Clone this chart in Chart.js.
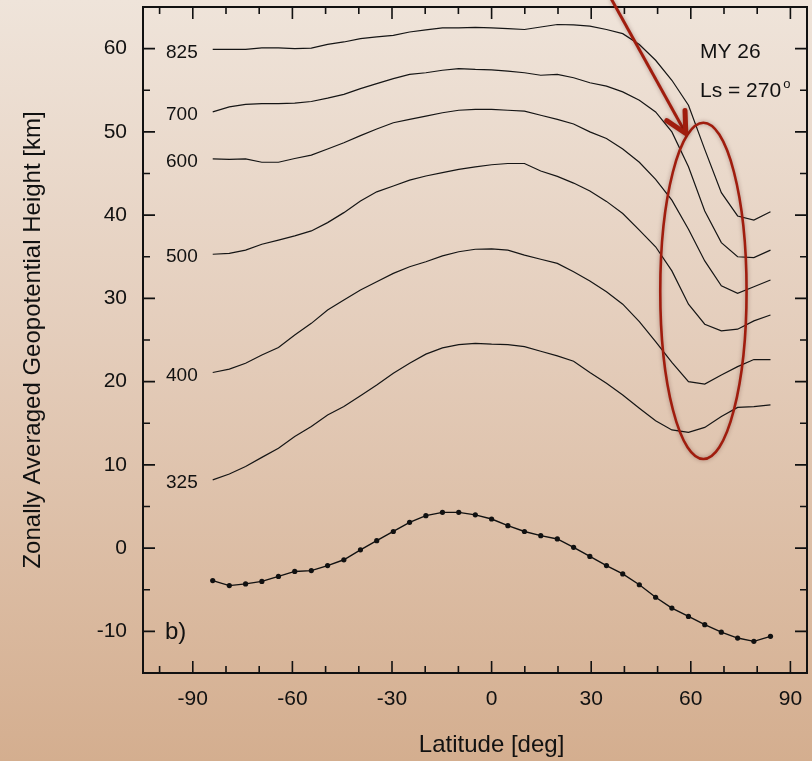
<!DOCTYPE html>
<html>
<head>
<meta charset="utf-8">
<script src="https://cdn.jsdelivr.net/npm/chart.js@4.4.1/dist/chart.umd.min.js"></script>
<style>
  html, body { margin: 0; padding: 0; }
  body { width: 812px; height: 761px; overflow: hidden;
    background: linear-gradient(to bottom, #efe4da 0%, #e4cdbb 45%, #d4ae8f 100%); }
</style>
</head>
<body>
<canvas id="myChart" width="812" height="761"></canvas>
<script>
// latitude grid of the model output (deg)
const lats = [-84.0, -79.0, -74.1, -69.2, -64.2, -59.3, -54.3, -49.4, -44.5, -39.5, -34.6, -29.6,
  -24.7, -19.8, -14.8, -9.9, -4.9, 0, 4.9, 9.9, 14.8, 19.8, 24.7, 29.6, 34.6, 39.5, 44.5, 49.4,
  54.3, 59.3, 64.2, 69.2, 74.1, 79.0, 84.0];

// geopotential height (km) of each pressure level
const h825 = [59.9, 59.9, 59.9, 60.1, 60.1, 60.0, 60.05, 60.5, 60.8, 61.2, 61.4, 61.6, 62.0, 62.25, 62.5,
  62.5, 62.55, 62.5, 62.4, 62.3, 62.6, 62.9, 62.85, 62.7, 62.3, 61.8, 60.5, 58.6, 56.2, 53.2, 47.9, 42.7,
  39.9, 39.4, 40.4];
const h700 = [52.4, 53.0, 53.3, 53.4, 53.4, 53.45, 53.65, 54.05, 54.5, 55.2, 55.8, 56.4, 56.9, 57.1, 57.4,
  57.6, 57.5, 57.45, 57.3, 57.1, 56.8, 56.9, 56.5, 55.9, 55.5, 54.8, 53.8, 52.4, 50.0, 45.8, 40.5, 36.7,
  35.0, 34.9, 35.8];
const h600 = [46.75, 46.7, 46.75, 46.35, 46.35, 46.8, 47.2, 47.95, 48.7, 49.55, 50.35, 51.1, 51.5, 51.9, 52.3,
  52.6, 52.7, 52.7, 52.6, 52.5, 52.0, 51.5, 50.95, 50.0, 49.2, 47.95, 46.35, 44.3, 41.8, 38.3, 34.5, 31.5,
  30.6, 31.4, 32.2];
const h500 = [35.3, 35.4, 35.8, 36.5, 37.0, 37.5, 38.1, 39.1, 40.3, 41.7, 42.8, 43.5, 44.2, 44.7, 45.1,
  45.5, 45.8, 46.05, 46.2, 46.2, 45.3, 44.65, 43.85, 42.9, 41.65, 40.2, 38.2, 36.2, 33.3, 29.3, 26.9, 26.1,
  26.3, 27.3, 28.0];
const h400 = [21.1, 21.5, 22.2, 23.2, 24.1, 25.6, 27.0, 28.6, 29.8, 31.0, 32.0, 33.0, 33.8, 34.4, 35.1,
  35.6, 35.9, 35.95, 35.8, 35.2, 34.7, 34.2, 33.2, 32.1, 30.8, 29.3, 27.2, 24.8, 22.3, 20.0, 19.7, 20.8,
  21.8, 22.65, 22.65];
const h325 = [8.2, 8.9, 9.8, 10.9, 12.0, 13.4, 14.6, 16.0, 17.0, 18.3, 19.6, 21.0, 22.2, 23.3, 24.05,
  24.45, 24.6, 24.5, 24.45, 24.2, 23.65, 23.1, 22.45, 21.1, 19.8, 18.4, 16.8, 15.3, 14.2, 13.9, 14.5, 15.8,
  16.9, 17.0, 17.2];
// surface curve (dots)
const surface = [-3.9, -4.5, -4.3, -4.0, -3.4, -2.8, -2.7, -2.1, -1.4, -0.2, 0.9, 2.0, 3.1, 3.9, 4.3,
  4.3, 4.0, 3.5, 2.7, 2.0, 1.5, 1.1, 0.1, -1.0, -2.1, -3.1, -4.4, -5.9, -7.2, -8.2, -9.2, -10.1,
  -10.8, -11.2, -10.6];

const levelNames = ['825', '700', '600', '500', '400', '325'];
const levelSeries = [h825, h700, h600, h500, h400, h325];

const xTicks = [-90, -60, -30, 0, 30, 60, 90];
const yTicks = [-10, 0, 10, 20, 30, 40, 50, 60];

const FONT = "'Liberation Sans', Arial, Helvetica, sans-serif";
const RED = '#a01d0e';

function pts(vals) {
  return vals.map((v, i) => ({ x: lats[i], y: v }));
}

const datasets = levelSeries.map((s, k) => ({
  label: levelNames[k],
  data: pts(s),
  borderColor: '#151515',
  borderWidth: 1.2,
  pointRadius: 0,
  tension: 0
}));
datasets.push({
  label: 'surface',
  data: pts(surface),
  borderColor: '#111',
  borderWidth: 1.4,
  pointRadius: 2.6,
  pointBackgroundColor: '#111',
  pointBorderWidth: 0,
  tension: 0
});

// frame, inward ticks, labels and the red marks
const extras = {
  id: 'extras',
  afterDraw(chart) {
    const { ctx, chartArea: a, scales: { x, y } } = chart;
    ctx.save();
    ctx.strokeStyle = '#111';
    ctx.lineWidth = 2;
    ctx.strokeRect(a.left, a.top, a.right - a.left, a.bottom - a.top);

    ctx.lineWidth = 1.6;
    ctx.beginPath();
    for (let v = -100; v <= 90; v += 10) {
      const px = x.getPixelForValue(v);
      const len = v % 30 === 0 ? 12 : 7;
      ctx.moveTo(px, a.bottom); ctx.lineTo(px, a.bottom - len);
      ctx.moveTo(px, a.top); ctx.lineTo(px, a.top + len);
    }
    for (let v = -10; v <= 60; v += 5) {
      const py = y.getPixelForValue(v);
      const len = v % 10 === 0 ? 12 : 7;
      ctx.moveTo(a.left, py); ctx.lineTo(a.left + len, py);
      ctx.moveTo(a.right, py); ctx.lineTo(a.right - len, py);
    }
    ctx.stroke();

    // level labels at the start of each line
    ctx.fillStyle = '#111';
    ctx.font = '19px ' + FONT;
    ctx.textAlign = 'right';
    ctx.textBaseline = 'middle';
    levelSeries.forEach((s, k) => {
      ctx.fillText(levelNames[k], x.getPixelForValue(lats[0]) - 15, y.getPixelForValue(s[0]) + 3);
    });

    // x axis title, centred on latitude 0
    ctx.textAlign = 'center';
    ctx.font = '24px ' + FONT;
    ctx.fillText('Latitude [deg]', x.getPixelForValue(0), 745);

    ctx.textAlign = 'left';
    ctx.font = '21px ' + FONT;
    ctx.fillText('MY 26', 700, 52);
    ctx.fillText('Ls = 270', 700, 91);
    const w = ctx.measureText('Ls = 270').width;
    ctx.font = '13px ' + FONT;
    ctx.fillText('o', 702 + w, 84);
    ctx.font = '24px ' + FONT;
    ctx.fillText('b)', 165, 632);

    // red ellipse
    const cx = x.getPixelForValue(63.8), cy = y.getPixelForValue(30.9);
    const rx = x.getPixelForValue(63.8 + 13.0) - cx;
    const ry = cy - y.getPixelForValue(30.9 + 20.2);
    ctx.strokeStyle = RED;
    ctx.lineWidth = 2.6;
    ctx.shadowColor = 'rgba(60,0,0,0.35)';
    ctx.shadowBlur = 4;
    ctx.beginPath();
    ctx.ellipse(cx, cy, rx, ry, 0, 0, Math.PI * 2);
    ctx.stroke();

    // red arrow
    const x0 = x.getPixelForValue(36.0), y0 = y.getPixelForValue(66.0);
    const x1 = x.getPixelForValue(58.5), y1 = y.getPixelForValue(49.8);
    ctx.lineWidth = 3;
    ctx.beginPath();
    ctx.moveTo(x0, y0); ctx.lineTo(x1, y1);
    ctx.stroke();
    const ang = Math.atan2(y0 - y1, x0 - x1);
    const hl = 23, spread = 27 * Math.PI / 180;
    ctx.lineWidth = 5;
    ctx.lineCap = 'round';
    ctx.lineJoin = 'round';
    ctx.beginPath();
    ctx.moveTo(x1 + hl * Math.cos(ang - spread), y1 + hl * Math.sin(ang - spread));
    ctx.lineTo(x1, y1);
    ctx.lineTo(x1 + hl * Math.cos(ang + spread), y1 + hl * Math.sin(ang + spread));
    ctx.stroke();
    ctx.restore();
  }
};

const ctx = document.getElementById('myChart');
new Chart(ctx, {
  type: 'line',
  data: { datasets: datasets },
  options: {
    responsive: false,
    animation: false,
    devicePixelRatio: 1,
    layout: { padding: { top: 7, right: 5, left: 0, bottom: 0 } },
    plugins: { legend: { display: false }, tooltip: { enabled: false } },
    scales: {
      x: {
        type: 'linear',
        min: -105,
        max: 95,
        afterBuildTicks: s => { s.ticks = xTicks.map(v => ({ value: v })); },
        afterFit: s => { s.height = 88; s.paddingLeft = 0; s.paddingRight = 0; },
        grid: { display: false, drawTicks: false },
        border: { display: false },
        ticks: { color: '#111', font: { family: FONT, size: 21 }, padding: 14, maxRotation: 0 }
      },
      y: {
        min: -15,
        max: 65,
        afterBuildTicks: s => { s.ticks = yTicks.map(v => ({ value: v })); },
        afterFit: s => { s.width = 143; s.paddingTop = 0; s.paddingBottom = 0; },
        grid: { display: false, drawTicks: false },
        border: { display: false },
        ticks: { color: '#111', font: { family: FONT, size: 21 }, padding: 16 },
        title: { display: true, text: 'Zonally Averaged Geopotential Height [km]', color: '#111',
          font: { family: FONT, size: 24, lineHeight: 1.2 }, padding: { top: 19, bottom: 0 } }
      }
    }
  },
  plugins: [extras]
});
</script>
</body>
</html>
